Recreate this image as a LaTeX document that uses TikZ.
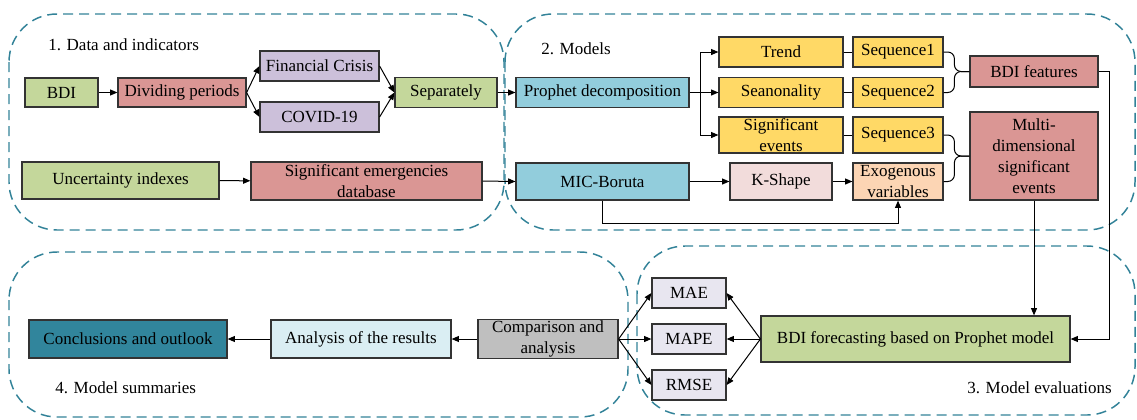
\documentclass[tikz,border=0pt]{standalone}
\usepackage{fontspec}
\setmainfont{Liberation Serif}
\usetikzlibrary{arrows.meta}
\definecolor{grn}{RGB}{196,215,155}
\definecolor{red}{RGB}{218,150,148}
\definecolor{pur}{RGB}{204,192,218}
\definecolor{blu}{RGB}{146,205,220}
\definecolor{yel}{RGB}{255,217,102}
\definecolor{pnk}{RGB}{242,220,219}
\definecolor{ora}{RGB}{252,213,180}
\definecolor{lav}{RGB}{232,230,240}
\definecolor{gry}{RGB}{191,191,191}
\definecolor{lbl}{RGB}{218,238,243}
\definecolor{tea}{RGB}{49,133,156}
\definecolor{grpc}{RGB}{50,130,152}
\begin{document}
\begin{tikzpicture}[x=0.75pt,y=-0.75pt,
  font=\fontsize{12.75}{15.75}\selectfont,
  wh/.style 2 args={minimum width={#1*0.75pt},minimum height={#2*0.75pt}},
  bx/.style={draw=black!80, line width=0.9pt, inner sep=1pt, align=center},
  conn/.style={line width=0.75pt, draw=black},
  arr/.style={conn, -{Triangle[length=5.5pt,width=4.5pt]}},
  grp/.style={draw=grpc, line width=1.1pt, dash pattern=on 7.5pt off 4.5pt, rounded corners=36pt},
  tag/.style={inner sep=0pt}]
\useasboundingbox (0,0) rectangle (1137,419);
% groups
\draw[grp] (9,14) rectangle (504,230);
\draw[grp] (505,14) rectangle (1135,230);
\draw[grp] (9,252) rectangle (628,417);
\draw[grp] (637,246) rectangle (1135,415);
\node[tag, anchor=west] (t1) at (48,45) {1. Data and indicators};
\node[tag, anchor=west] (t2) at (541,49) {2. Models};
\node[tag, anchor=west] (t4) at (55,388) {4. Model summaries};
\node[tag, anchor=east] (t3) at (1112,388) {3. Model evaluations};
% nodes
\node[bx, fill=grn, wh={73}{29}] (bdi) at (61.5,92.5) {BDI};
\node[bx, fill=red, wh={128}{29}] (div) at (182,92.5) {Dividing periods};
\node[bx, fill=pur, wh={119}{30}] (fin) at (319.5,66) {Financial Crisis};
\node[bx, fill=pur, wh={119}{30}] (cov) at (319.5,117) {COVID-19};
\node[bx, fill=grn, wh={102}{30}] (sep) at (446,92.5) {Separately};
\node[bx, fill=grn, wh={197}{37}] (unc) at (120.5,180.5) {Uncertainty indexes};
\node[bx, fill=red, wh={231}{38}] (sdb) at (366.5,181) {Significant emergencies\\database};
\node[bx, fill=blu, wh={173}{30}] (pro) at (602.5,92.5) {Prophet decomposition};
\node[bx, fill=yel, wh={124}{30}] (trend) at (781,52) {Trend};
\node[bx, fill=yel, wh={90}{30}] (seq1) at (898,52) {Sequence1};
\node[bx, fill=yel, wh={124}{30}] (sea) at (781,92.5) {Seanonality};
\node[bx, fill=yel, wh={90}{30}] (seq2) at (898,92.5) {Sequence2};
\node[bx, fill=yel, wh={124}{36}] (sev) at (781,135) {Significant\\events};
\node[bx, fill=yel, wh={90}{36}] (seq3) at (898,135) {Sequence3};
\node[bx, fill=red, wh={128}{31}] (bdif) at (1034,71.5) {BDI features};
\node[bx, fill=red, wh={128}{88}] (multi) at (1034,156) {Multi-\\dimensional\\significant\\events};
\node[bx, fill=blu, wh={173}{37}] (mic) at (602.5,181.5) {MIC-Boruta};
\node[bx, fill=pnk, wh={102}{37}] (ks) at (781,181.5) {K-Shape};
\node[bx, fill=ora, wh={90}{37}] (exo) at (898,181.5) {Exogenous\\variables};
\node[bx, fill=lav, wh={74}{30}] (mae) at (689,293) {MAE};
\node[bx, fill=lav, wh={74}{30}] (mape) at (689,339) {MAPE};
\node[bx, fill=lav, wh={74}{30}] (rmse) at (689,385) {RMSE};
\node[bx, fill=grn, wh={309}{46}] (fc) at (915.5,339) {BDI forecasting based on Prophet model};
\node[bx, fill=gry, wh={140}{38}] (cmp) at (548,339) {Comparison and\\analysis};
\node[bx, fill=lbl, wh={180}{38}] (ana) at (361,339) {Analysis of the results};
\node[bx, fill=tea, wh={198}{38}] (con) at (128,339) {Conclusions and outlook};
% connectors
\draw[arr] (bdi) -- (div);
\draw[arr] (div.east) -- (fin.west);
\draw[arr] (div.east) -- (cov.west);
\draw[arr] (fin.east) -- (sep.west);
\draw[arr] (cov.east) -- (sep.west);
\draw[arr] (sep) -- (pro);
\draw[arr] (unc) -- (sdb);
\draw[arr] (sdb.east) -- (mic.west);
\path (pro.east) ++(11,0) coordinate (pj);
\draw[conn] (pro.east) -- (pj);
\draw[arr] (pj) |- (trend.west);
\draw[arr] (pj) -- (sea.west);
\draw[arr] (pj) |- (sev.west);
\draw[conn] (trend) -- (seq1);
\draw[conn] (sea) -- (seq2);
\draw[conn] (sev) -- (seq3);
\path (bdif.west) ++(-15,0) coordinate (j1);
\path (multi.west) ++(-15,0) coordinate (j2);
\draw[conn, rounded corners=5pt] (seq1.east) -| (j1) -- (bdif.west);
\draw[conn, rounded corners=5pt] (seq2.east) -| (j1) -- (bdif.west);
\draw[conn, rounded corners=5pt] (seq3.east) -| (j2) -- (multi.west);
\draw[conn, rounded corners=5pt] (exo.east) -| (j2) -- (multi.west);
\draw[arr] (mic) -- (ks);
\draw[arr] (ks) -- (exo);
\path (mic.south) ++(0,23) coordinate (mb);
\draw[arr] (mic.south) -- (mb) -| (exo.south);
\path (bdif.east) ++(11,0) coordinate (bf);
\draw[arr] (bdif.east) -- (bf) |- (fc.east);
\draw[arr] (multi.south) -- (multi.south |- fc.north);
\draw[arr] (fc.west) -- (mae.east);
\draw[arr] (fc.west) -- (mape.east);
\draw[arr] (fc.west) -- (rmse.east);
\draw[arr] (cmp.east) -- (mae.west);
\draw[arr] (cmp.east) -- (mape.west);
\draw[arr] (cmp.east) -- (rmse.west);
\draw[arr] (cmp) -- (ana);
\draw[arr] (ana) -- (con);
\end{tikzpicture}
\end{document}
